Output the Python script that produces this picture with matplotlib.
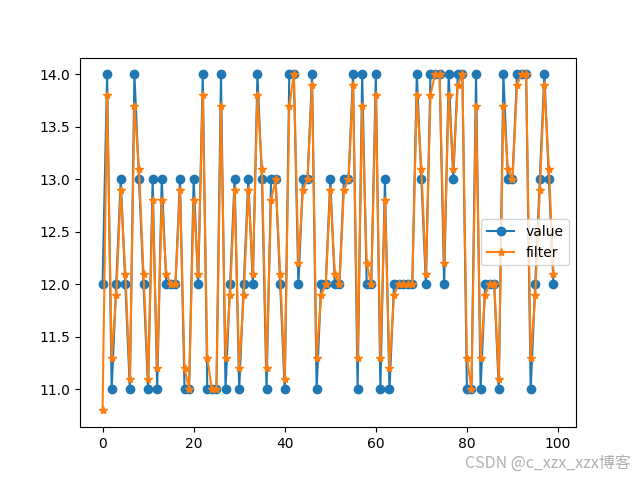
import matplotlib
matplotlib.use('Agg')
import matplotlib.pyplot as plt

# 原始数据和滤波后的数据
value = [12, 14, 11, 12, 13, 12, 11, 14, 13, 12,
         11, 13, 11, 13, 12, 12, 12, 13, 11, 11,
         13, 12, 14, 11, 11, 11, 14, 11, 12, 13,
         11, 12, 13, 12, 14, 13, 11, 13, 13, 12,
         11, 14, 14, 12, 13, 13, 14, 11, 12, 12,
         13, 12, 12, 13, 13, 14, 11, 14, 12, 12,
         14, 11, 13, 11, 12, 12, 12, 12, 12, 14,
         13, 12, 14, 14, 14, 12, 14, 13, 14, 14,
         11, 11, 14, 11, 12, 12, 12, 11, 14, 13,
         13, 14, 14, 14, 11, 12, 13, 14, 13, 12]
filtered = [10.8, 13.8, 11.3, 11.9, 12.9, 12.1, 11.1, 13.7, 13.1, 12.1,
            11.1, 12.8, 11.2, 12.8, 12.1, 12.0, 12.0, 12.9, 11.2, 11.0,
            12.8, 12.1, 13.8, 11.3, 11.0, 11.0, 13.7, 11.3, 11.9, 12.9,
            11.2, 11.9, 12.9, 12.1, 13.8, 13.1, 11.2, 12.8, 13.0, 12.1,
            11.1, 13.7, 14.0, 12.2, 12.9, 13.0, 13.9, 11.3, 11.9, 12.0,
            12.9, 12.1, 12.0, 12.9, 13.0, 13.9, 11.3, 13.7, 12.2, 12.0,
            13.8, 11.3, 12.8, 11.2, 11.9, 12.0, 12.0, 12.0, 12.0, 13.8,
            13.1, 12.1, 13.8, 14.0, 14.0, 12.2, 13.8, 13.1, 13.9, 14.0,
            11.3, 11.0, 13.7, 11.3, 11.9, 12.0, 12.0, 11.1, 13.7, 13.1,
            13.0, 13.9, 14.0, 14.0, 11.3, 11.9, 12.9, 13.9, 13.1, 12.1]

x = range(len(value))
fig = plt.figure(figsize=(6.4, 4.8), dpi=100)
plt.plot(x, value, marker='o', label='value')
plt.plot(x, filtered, marker='*', label='filter')
plt.legend(loc='center right')

# 水印
fig.text(0.985, 0.018, 'CSDN @c_xzx_xzx博客', ha='right', va='bottom',
         fontsize=11.5, color='#b0b0b0',
         family=['Noto Sans CJK SC', 'DejaVu Sans'])

plt.savefig('out.png')
